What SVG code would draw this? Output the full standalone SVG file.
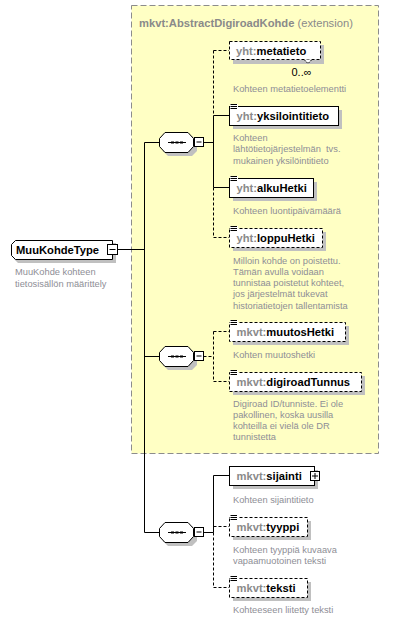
<svg xmlns="http://www.w3.org/2000/svg" width="403" height="620" viewBox="0 0 403 620">
<defs>
<style>
.bg{fill:#ffffff}
.ext{fill:#ffffc4;stroke:#8c8c8c;stroke-width:1;stroke-dasharray:6,3}
.shadow{fill:#c0c0c0}
.box{fill:#ffffff;stroke:#000000;stroke-width:1}
.dbox{fill:#ffffff;stroke:#000000;stroke-width:1;stroke-dasharray:3,2}
.ln{fill:none;stroke:#000000;stroke-width:1}
.dln{fill:none;stroke:#000000;stroke-width:1;stroke-dasharray:3,2}
.name{font-family:"Liberation Sans",Arial,sans-serif;font-size:11.2px;font-weight:bold;fill:#000000}
.pre{fill:#8a8a8a}
.title{font-family:"Liberation Sans",Arial,sans-serif;font-size:11.2px;fill:#8a8a8a}
.doc{font-family:"Liberation Sans",Arial,sans-serif;font-size:9.3px;fill:#8e8e96}
.occ{font-family:"Liberation Sans",Arial,sans-serif;font-size:11px;fill:#000000}
.sq{fill:#ffffff;stroke:#000000;stroke-width:1}
</style>
<g id="hexShape">
<path class="shadow" d="M168,136 H192 L197,141 V151 L192,156 H168 L163,151 V141 Z" transform="translate(0,-142)"/>
<path class="box" d="M165,132.5 H188 L193.5,138.5 V146.5 L188,152.5 H165 L159.5,146.5 V138.5 Z" transform="translate(0,-142)"/>
<line x1="168" y1="0.5" x2="186" y2="0.5" stroke="#000" stroke-width="1"/>
<rect x="171" y="-0.5" width="3" height="2" fill="#000"/>
<rect x="175.5" y="-0.5" width="3" height="2" fill="#000"/>
<rect x="180" y="-0.5" width="3" height="2" fill="#000"/>
<rect class="sq" x="194.5" y="-4.5" width="9" height="9"/>
<line x1="196.5" y1="0" x2="201.5" y2="0" stroke="#000" stroke-width="1"/>
</g>
<g id="docIcon">
<rect x="0" y="0" width="8" height="6" fill="#ffffff"/>
<line x1="0.5" y1="0.5" x2="7" y2="0.5" stroke="#000" stroke-width="1"/>
<line x1="0.5" y1="2.5" x2="7" y2="2.5" stroke="#000" stroke-width="1"/>
<line x1="0.5" y1="4.5" x2="7" y2="4.5" stroke="#000" stroke-width="1"/>
</g>
</defs>
<rect class="bg" x="0" y="0" width="403" height="620"/>

<g id="extension">
<rect class="ext" x="131.5" y="5.5" width="247" height="448"/>
<text class="title" x="139" y="27"><tspan font-weight="bold">mkvt:AbstractDigiroadKohde</tspan> (extension)</text>
</g>

<g id="connectors">
<line class="ln" x1="117" y1="249.5" x2="144.5" y2="249.5"/>
<line class="ln" x1="144.5" y1="142.5" x2="144.5" y2="532.5"/>
<line class="ln" x1="144.5" y1="142.5" x2="159.5" y2="142.5"/>
<line class="ln" x1="144.5" y1="356.5" x2="159.5" y2="356.5"/>
<line class="ln" x1="144.5" y1="532.5" x2="159.5" y2="532.5"/>
<line class="ln" x1="203.5" y1="142.5" x2="213.5" y2="142.5"/>
<line class="dln" x1="213.5" y1="50.5" x2="213.5" y2="115.5"/>
<line class="ln" x1="213.5" y1="115.5" x2="213.5" y2="187.5"/>
<line class="dln" x1="213.5" y1="187.5" x2="213.5" y2="237.5"/>
<line class="dln" x1="213.5" y1="50.5" x2="229" y2="50.5"/>
<line class="ln" x1="213.5" y1="115.5" x2="229" y2="115.5"/>
<line class="ln" x1="213.5" y1="187.5" x2="229" y2="187.5"/>
<line class="dln" x1="213.5" y1="237.5" x2="229" y2="237.5"/>
<line class="dln" x1="203.5" y1="356.5" x2="213.5" y2="356.5"/>
<line class="dln" x1="213.5" y1="331.5" x2="213.5" y2="381.5"/>
<line class="dln" x1="213.5" y1="331.5" x2="229" y2="331.5"/>
<line class="dln" x1="213.5" y1="381.5" x2="229" y2="381.5"/>
<line class="ln" x1="203.5" y1="532.5" x2="213.5" y2="532.5"/>
<line class="ln" x1="213.5" y1="475.5" x2="213.5" y2="532.5"/>
<line class="dln" x1="213.5" y1="532.5" x2="213.5" y2="587.5"/>
<line class="ln" x1="213.5" y1="475.5" x2="229" y2="475.5"/>
<line class="dln" x1="213.5" y1="526.5" x2="229" y2="526.5"/>
<line class="dln" x1="213.5" y1="587.5" x2="229" y2="587.5"/>
</g>

<g id="MuuKohdeType">
<path class="shadow" d="M18,243 H116 V263 H18 L14,259 V247 Z"/>
<path class="box" d="M15.5,240.5 H112.5 V259.5 H15.5 L11.5,255.5 V244.5 Z"/>
<text class="name" x="16" y="253.5" font-size="11px">MuuKohdeType</text>
<rect class="sq" x="107.5" y="244.5" width="10" height="10"/>
<line x1="109.5" y1="249.5" x2="115.5" y2="249.5" stroke="#000" stroke-width="1"/>
<text class="doc" x="15" y="275">MuuKohde kohteen</text>
<text class="doc" x="15" y="286.5">tietosisällön määrittely</text>
</g>

<g id="seq1"><use href="#hexShape" transform="translate(0,142)"/></g>
<g id="seq2"><use href="#hexShape" transform="translate(0,356)"/></g>
<g id="seq3"><use href="#hexShape" transform="translate(0,532)"/></g>

<g id="metatieto">
<rect class="shadow" x="233" y="45" width="91" height="19"/>
<rect class="dbox" x="229.5" y="41.5" width="91" height="18"/>
<polyline points="304,59.5 308,63.5 312,59.5" fill="#ffffff" stroke="#000" stroke-width="1" stroke-dasharray="2,1"/>
<text class="name" x="236" y="54.5"><tspan class="pre">yht:</tspan>metatieto</text>
<text class="occ" x="291.5" y="75.5">0..∞</text>
<text class="doc" x="233" y="91.5">Kohteen metatietoelementti</text>
</g>

<g id="yksilointitieto">
<rect class="shadow" x="233" y="110" width="109" height="19"/>
<rect class="box" x="229.5" y="106.5" width="109" height="19"/>
<use href="#docIcon" transform="translate(230,104)"/>
<text class="name" x="236.5" y="120"><tspan class="pre">yht:</tspan>yksilointitieto</text>
<text class="doc" x="233" y="141">Kohteen</text>
<text class="doc" x="233" y="152.3" xml:space="preserve">lähtötietojärjestelmän  tvs.</text>
<text class="doc" x="233" y="163.6">mukainen yksilöintitieto</text>
</g>

<g id="alkuHetki">
<rect class="shadow" x="233" y="182" width="84" height="19"/>
<rect class="box" x="229.5" y="178.5" width="84" height="19"/>
<use href="#docIcon" transform="translate(230,176)"/>
<text class="name" x="236.5" y="192"><tspan class="pre">yht:</tspan>alkuHetki</text>
<text class="doc" x="233" y="213.5">Kohteen luontipäivämäärä</text>
</g>

<g id="loppuHetki">
<rect class="shadow" x="233" y="232" width="93" height="19"/>
<rect class="dbox" x="229.5" y="228.5" width="93" height="19"/>
<use href="#docIcon" transform="translate(230,226)"/>
<text class="name" x="236.5" y="242"><tspan class="pre">yht:</tspan>loppuHetki</text>
<text class="doc" x="233" y="263.5">Milloin kohde on poistettu.</text>
<text class="doc" x="233" y="274.8">Tämän avulla voidaan</text>
<text class="doc" x="233" y="286.1">tunnistaa poistetut kohteet,</text>
<text class="doc" x="233" y="297.4">jos järjestelmät tukevat</text>
<text class="doc" x="233" y="308.7">historiatietojen tallentamista</text>
</g>

<g id="muutosHetki">
<rect class="shadow" x="233" y="326" width="116" height="19"/>
<rect class="dbox" x="229.5" y="322.5" width="116" height="19"/>
<use href="#docIcon" transform="translate(230,320)"/>
<text class="name" x="236.5" y="336"><tspan class="pre">mkvt:</tspan>muutosHetki</text>
<text class="doc" x="233" y="357.5">Kohten muutoshetki</text>
</g>

<g id="digiroadTunnus">
<rect class="shadow" x="233" y="376" width="132" height="19"/>
<rect class="dbox" x="229.5" y="372.5" width="132" height="19"/>
<use href="#docIcon" transform="translate(230,370)"/>
<text class="name" x="236.5" y="386"><tspan class="pre">mkvt:</tspan>digiroadTunnus</text>
<text class="doc" x="233" y="406.5">Digiroad ID/tunniste. Ei ole</text>
<text class="doc" x="233" y="417.8">pakollinen, koska uusilla</text>
<text class="doc" x="233" y="429.1">kohteilla ei vielä ole DR</text>
<text class="doc" x="233" y="440.4">tunnistetta</text>
</g>

<g id="sijainti">
<rect class="shadow" x="233" y="470" width="85" height="19"/>
<rect class="box" x="229.5" y="466.5" width="85" height="19"/>
<text class="name" x="236.5" y="480"><tspan class="pre">mkvt:</tspan>sijainti</text>
<rect class="sq" x="310.5" y="471.5" width="9" height="9"/>
<line x1="312" y1="476" x2="318" y2="476" stroke="#000" stroke-width="1"/>
<line x1="315" y1="473" x2="315" y2="479" stroke="#000" stroke-width="1"/>
<text class="doc" x="233" y="502.5">Kohteen sijaintitieto</text>
</g>

<g id="tyyppi">
<rect class="shadow" x="233" y="521" width="78" height="19"/>
<rect class="dbox" x="229.5" y="517.5" width="78" height="19"/>
<use href="#docIcon" transform="translate(230,515)"/>
<text class="name" x="236.5" y="531"><tspan class="pre">mkvt:</tspan>tyyppi</text>
<text class="doc" x="233" y="552.8">Kohteen tyyppiä kuvaava</text>
<text class="doc" x="233" y="563.5">vapaamuotoinen teksti</text>
</g>

<g id="teksti">
<rect class="shadow" x="233" y="582" width="78" height="19"/>
<rect class="dbox" x="229.5" y="578.5" width="78" height="19"/>
<use href="#docIcon" transform="translate(230,576)"/>
<text class="name" x="236.5" y="592"><tspan class="pre">mkvt:</tspan>teksti</text>
<text class="doc" x="233" y="612.8">Kohteeseen liitetty teksti</text>
</g>
</svg>
